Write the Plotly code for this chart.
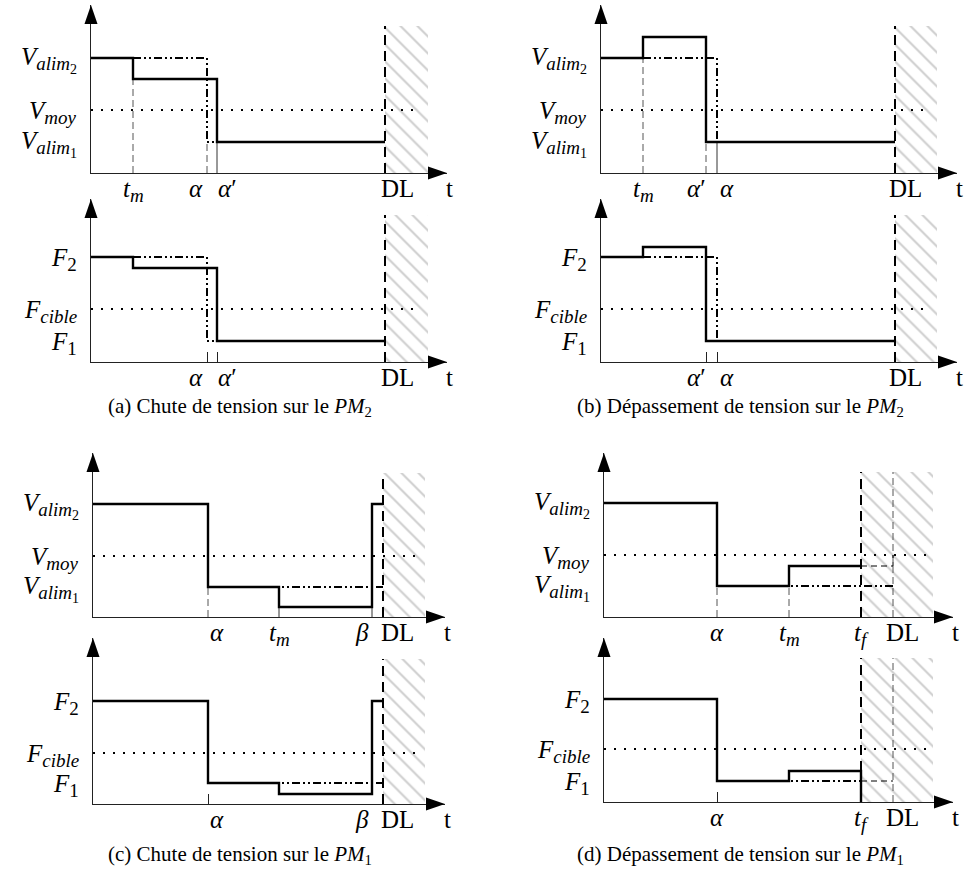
import plotly.graph_objects as go

FW, FH = 973, 877
FONT = "Liberation Serif, DejaVu Serif, serif"

# ---------------- data (schematic units: time / level above the axis) ----------------
# (a) Chute de tension sur le PM2
a_top_t = [42, 116, 126, 294]        # t_m, alpha, alpha', DL
a_top_lvl = [115, 94, 63, 31]        # V_alim2, V after t_m, V_moy, V_alim1
a_bot_t = [42, 116, 126, 294]
a_bot_lvl = [105, 94, 53, 21]        # F2, F after t_m, F_cible, F1
# (b) Dépassement de tension sur le PM2
b_top_t = [42, 105, 116, 294]        # t_m, alpha', alpha, DL
b_top_lvl = [115, 136, 63, 31]       # V_alim2, V after t_m, V_moy, V_alim1
b_bot_t = [42, 105, 116, 294]
b_bot_lvl = [105, 115, 53, 21]       # F2, F after t_m, F_cible, F1
# (c) Chute de tension sur le PM1
c_top_t = [115, 186, 279, 290]       # alpha, t_m, beta, DL
c_top_lvl = [113, 61, 30, 10]        # V_alim2, V_moy, V_alim1, V after t_m
c_bot_t = [115, 186, 279, 290]
c_bot_lvl = [103, 51, 21, 10]        # F2, F_cible, F1, F after t_m
# (d) Dépassement de tension sur le PM1
d_top_t = [113, 185, 257, 289]       # alpha, t_m, t_f, DL
d_top_lvl = [114, 62, 31, 51]        # V_alim2, V_moy, V_alim1, V after t_m
d_bot_t = [113, 185, 257, 289]
d_bot_lvl = [103, 53, 21, 31]        # F2, F_cible, F1, F after t_m

# tick label texts
S1 = "<span style='font-size:19px'>"
S2 = "<span style='font-size:14px'>"
V2 = f"<i>V</i><sub>{S1}<i>alim</i></span><sub>{S2}2</span></sub></sub>"
V1 = f"<i>V</i><sub>{S1}<i>alim</i></span><sub>{S2}1</span></sub></sub>"
VM = f"<i>V</i><sub>{S1}<i>moy</i></span></sub>"
F2 = f"<i>F</i><sub>{S1}2</span></sub>"
F1 = f"<i>F</i><sub>{S1}1</span></sub>"
FC = f"<i>F</i><sub>{S1}<i>cible</i></span></sub>"
TM = f"<i>t</i><sub>{S1}<i>m</i></span></sub>"
TF = f"<i>t</i><sub>{S1}<i>f</i></span></sub>"
AL = "<i>α</i>"
ALP = "<i>α</i>′"
BE = "<i>β</i>"

captions = [
    "(a) Chute de tension sur le <i>PM</i><sub>2</sub>",
    "(b) Dépassement de tension sur le <i>PM</i><sub>2</sub>",
    "(c) Chute de tension sur le <i>PM</i><sub>1</sub>",
    "(d) Dépassement de tension sur le <i>PM</i><sub>1</sub>",
]

# ---------------- layout geometry (pixels) ----------------
GEOM = {
    1: dict(ox=91, oy=173, W=356, H=168, hend=337, htop=147, dend=329),
    2: dict(ox=91, oy=362, W=356, H=163, hend=337, htop=147, dend=329),
    3: dict(ox=601, oy=173, W=356, H=168, hend=336, htop=147, dend=329),
    4: dict(ox=601, oy=362, W=356, H=163, hend=336, htop=147, dend=329),
    5: dict(ox=93, oy=617, W=352, H=164, hend=332, htop=144, dend=325),
    6: dict(ox=93, oy=804, W=352, H=166, hend=332, htop=145, dend=325),
    7: dict(ox=604, oy=617, W=349, H=164, hend=329, htop=145, dend=323),
    8: dict(ox=604, oy=802, W=349, H=164, hend=329, htop=144, dend=323),
}

SOLID = dict(color="black", width=2.4)
DASHDOT = dict(color="black", width=2, dash="8px,3px,2px,3px,2px,3px")
DOTTED = dict(color="black", width=2, dash="2px,8px")
DLDASH = dict(color="black", width=2, dash="10px,6px")
GUIDE = dict(color="#555555", width=1, dash="7px,4px")
GUIDE_S = dict(color="#333333", width=1)
THIN_D = dict(color="black", width=1, dash="6px,4px")

fig = go.Figure()
layout = {}
shapes = []
annotations = []


def ids(i):
    return ("x" if i == 1 else f"x{i}", "y" if i == 1 else f"y{i}")


def setup(i, tickvals=()):
    g = GEOM[i]
    xid, yid = ids(i)
    layout["xaxis" if i == 1 else f"xaxis{i}"] = dict(
        domain=[g["ox"] / FW, (g["ox"] + g["W"]) / FW], range=[0, g["W"]],
        anchor=yid, showline=True, linecolor="#222", linewidth=1.3,
        showgrid=False, zeroline=False, showticklabels=False,
        ticks="inside" if tickvals else "", tickvals=list(tickvals),
        ticklen=10, tickwidth=1, tickcolor="#222", fixedrange=True)
    layout["yaxis" if i == 1 else f"yaxis{i}"] = dict(
        domain=[1 - g["oy"] / FH, 1 - (g["oy"] - g["H"]) / FH], range=[0, g["H"]],
        anchor=xid, showline=True, linecolor="#222", linewidth=1.3,
        showgrid=False, zeroline=False, showticklabels=False, ticks="",
        fixedrange=True)
    # arrow heads (paper coords)
    ox, oy, W, H = g["ox"], g["oy"], g["W"], g["H"]
    px = lambda x: x / FW
    py = lambda y: 1 - y / FH
    shapes.append(dict(type="path", xref="paper", yref="paper", fillcolor="black",
                       line=dict(width=0),
                       path=f"M {px(ox+W-19)},{py(oy-6.5)} L {px(ox+W)},{py(oy)} L {px(ox+W-19)},{py(oy+6.5)} Z"))
    shapes.append(dict(type="path", xref="paper", yref="paper", fillcolor="black",
                       line=dict(width=0),
                       path=f"M {px(ox-6.5)},{py(oy-H+19)} L {px(ox)},{py(oy-H)} L {px(ox+6.5)},{py(oy-H+19)} Z"))


def line(i, xs, ys, style, shape="hv"):
    xid, yid = ids(i)
    fig.add_trace(go.Scatter(x=xs, y=ys, xaxis=xid, yaxis=yid, mode="lines",
                             line=dict(shape=shape, **style), hoverinfo="skip",
                             showlegend=False))


def hatch(i, x0):
    g = GEOM[i]
    xid, yid = ids(i)
    x1, top = g["hend"], g["htop"]
    fig.add_trace(go.Scatter(x=[x0, x1, x1, x0, x0], y=[0, 0, top, top, 0],
                             xaxis=xid, yaxis=yid, mode="lines", fill="toself",
                             fillcolor="rgba(0,0,0,0)", line=dict(width=0),
                             fillpattern=dict(shape="\\", fgcolor="#cfcfcf",
                                              bgcolor="white", size=12, solidity=0.17,
                                              fillmode="replace"),
                             hoverinfo="skip", showlegend=False))


def vline(i, x, y0, y1, style):
    line(i, [x, x], [y0, y1], style, shape="linear")


def dotted(i, lvl):
    line(i, [0, GEOM[i]["dend"]], [lvl, lvl], DOTTED, shape="linear")


def ylabels(i, items):
    xid, yid = ids(i)
    for lvl, txt in items:
        annotations.append(dict(x=0, y=lvl, xref=xid, yref=yid, text=txt, showarrow=False,
                                xanchor="right", yanchor="middle", xshift=-12, yshift=-2,
                                font=dict(family=FONT, size=25, color="black")))


def xlabels(i, items):
    xid, yid = ids(i)
    items = list(items) + [(GEOM[i]["W"], "t", 2)]
    for x, txt, sh in items:
        annotations.append(dict(x=x, y=0, xref=xid, yref=yid, text=txt, showarrow=False,
                                xanchor="center", yanchor="top", xshift=sh, yshift=0,
                                font=dict(family=FONT, size=25, color="black")))


# ---------- panel (a) top ----------
tm, al, alp, dl = a_top_t
v2, vs, vm, v1 = a_top_lvl
setup(1)
hatch(1, dl)
dotted(1, vm)
vline(1, tm, 0, vs, GUIDE)
vline(1, al, 0, v1, GUIDE)
vline(1, alp, 0, v1, GUIDE_S)
line(1, [0, al, dl], [v2, v1, v1], DASHDOT)
line(1, [0, tm, alp, dl], [v2, vs, v1, v1], SOLID)
vline(1, dl, 0, GEOM[1]["htop"], DLDASH)
ylabels(1, [(v2, V2), (vm, VM), (v1, V1)])
xlabels(1, [(tm, TM, 0), (al, AL, -11), (alp, ALP, 10), (dl, "DL", 12)])

# ---------- panel (a) bottom ----------
tm, al, alp, dl = a_bot_t
f2, fs, fc, f1 = a_bot_lvl
setup(2, tickvals=[al, alp])
hatch(2, dl)
dotted(2, fc)
line(2, [0, al, dl], [f2, f1, f1], DASHDOT)
line(2, [0, tm, alp, dl], [f2, fs, f1, f1], SOLID)
vline(2, dl, 0, GEOM[2]["htop"], DLDASH)
ylabels(2, [(f2, F2), (fc, FC), (f1, F1)])
xlabels(2, [(al, AL, -11), (alp, ALP, 10), (dl, "DL", 12)])

# ---------- panel (b) top ----------
tm, alp, al, dl = b_top_t
v2, vh, vm, v1 = b_top_lvl
setup(3)
hatch(3, dl)
dotted(3, vm)
vline(3, tm, 0, v2, GUIDE)
vline(3, alp, 0, v1, GUIDE)
vline(3, al, 0, v1, GUIDE_S)
line(3, [0, al, dl], [v2, v1, v1], DASHDOT)
line(3, [0, tm, alp, dl], [v2, vh, v1, v1], SOLID)
vline(3, dl, 0, GEOM[3]["htop"], DLDASH)
ylabels(3, [(v2, V2), (vm, VM), (v1, V1)])
xlabels(3, [(tm, TM, 0), (alp, ALP, -10), (al, AL, 10), (dl, "DL", 10)])

# ---------- panel (b) bottom ----------
tm, alp, al, dl = b_bot_t
f2, fh, fc, f1 = b_bot_lvl
setup(4, tickvals=[alp, al])
hatch(4, dl)
dotted(4, fc)
line(4, [0, al, dl], [f2, f1, f1], DASHDOT)
line(4, [0, tm, alp, dl], [f2, fh, f1, f1], SOLID)
vline(4, dl, 0, GEOM[4]["htop"], DLDASH)
ylabels(4, [(f2, F2), (fc, FC), (f1, F1)])
xlabels(4, [(alp, ALP, -10), (al, AL, 10), (dl, "DL", 10)])

# ---------- panel (c) top ----------
al, tm, be, dl = c_top_t
v2, vm, v1, vl = c_top_lvl
setup(5)
hatch(5, dl)
dotted(5, vm)
vline(5, al, 0, v1, GUIDE)
vline(5, tm, 0, vl, GUIDE_S)
vline(5, be, 0, vl, GUIDE_S)
line(5, [al, dl], [v1, v1], DASHDOT)
line(5, [0, al, tm, be, dl], [v2, v1, vl, v2, v2], SOLID)
vline(5, dl, 0, GEOM[5]["htop"], DLDASH)
ylabels(5, [(v2, V2), (vm, VM), (v1, V1)])
xlabels(5, [(al, AL, 9), (tm, TM, 0), (be, BE, -10), (dl, "DL", 14)])

# ---------- panel (c) bottom ----------
al, tm, be, dl = c_bot_t
f2, fc, f1, fl = c_bot_lvl
setup(6, tickvals=[al])
hatch(6, dl)
dotted(6, fc)
line(6, [al, dl], [f1, f1], DASHDOT)
line(6, [0, al, tm, be, dl], [f2, f1, fl, f2, f2], SOLID)
vline(6, dl, 0, GEOM[6]["htop"], DLDASH)
ylabels(6, [(f2, F2), (fc, FC), (f1, F1)])
xlabels(6, [(al, AL, 9), (be, BE, -10), (dl, "DL", 14)])

# ---------- panel (d) top ----------
al, tm, tf, dl = d_top_t
v2, vm, v1, vh = d_top_lvl
setup(7)
hatch(7, tf)
dotted(7, vm)
vline(7, al, 0, v1, GUIDE)
vline(7, tm, 0, v1, GUIDE)
vline(7, dl, 0, GEOM[7]["htop"], GUIDE)
line(7, [al, dl], [v1, v1], DASHDOT)
line(7, [tf, dl], [vh, vm], THIN_D)
line(7, [0, al, tm, tf], [v2, v1, vh, vh], SOLID)
vline(7, tf, 0, GEOM[7]["htop"], DLDASH)
ylabels(7, [(v2, V2), (vm, VM), (v1, V1)])
xlabels(7, [(al, AL, 0), (tm, TM, 0), (tf, TF, 0), (dl, "DL", 9)])

# ---------- panel (d) bottom ----------
al, tm, tf, dl = d_bot_t
f2, fc, f1, fh = d_bot_lvl
setup(8, tickvals=[al])
hatch(8, tf)
dotted(8, fc)
vline(8, dl, 0, GEOM[8]["htop"], GUIDE)
line(8, [tf, dl], [f1, f1], THIN_D, shape="linear")
line(8, [al, tf], [f1, f1], DASHDOT)
line(8, [0, al, tm, tf], [f2, f1, fh, 0], SOLID)
vline(8, tf, fh, GEOM[8]["htop"], DLDASH)
ylabels(8, [(f2, F2), (fc, FC), (f1, F1)])
xlabels(8, [(al, AL, 0), (tf, TF, 0), (dl, "DL", 9)])

# ---------- captions ----------
for txt, (cx, cy) in zip(captions, [(240, 407), (740, 407), (240, 855), (740, 855)]):
    annotations.append(dict(x=cx / FW, y=1 - cy / FH, xref="paper", yref="paper",
                            text=txt, showarrow=False, xanchor="center", yanchor="middle",
                            font=dict(family=FONT, size=21, color="black")))

fig.update_layout(width=FW, height=FH, autosize=False,
                  margin=dict(l=0, r=0, t=0, b=0),
                  paper_bgcolor="white", plot_bgcolor="white",
                  showlegend=False, shapes=shapes, annotations=annotations, **layout)

fig.write_html("out.html", config=dict(displayModeBar=False),
               post_script="document.body.style.margin='0px';document.body.style.padding='0px';")
